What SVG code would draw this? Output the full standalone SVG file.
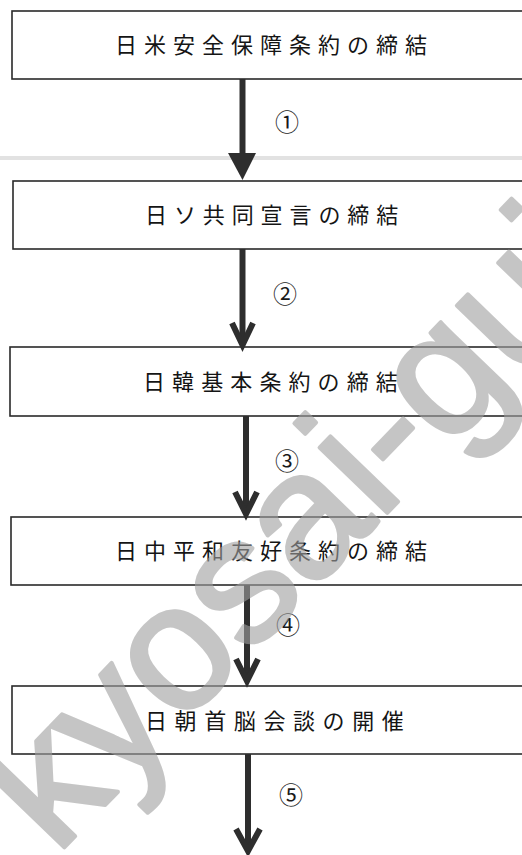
<svg xmlns="http://www.w3.org/2000/svg" width="522" height="855" viewBox="0 0 522 855">
<style>
.box{fill:#fff;stroke:#2a2a2a;stroke-width:1.6}
.lbl{font-family:"Noto Sans CJK JP","Noto Sans",sans-serif;font-size:22px;fill:#151515}
.num{font-family:"Noto Sans CJK JP","Noto Sans",sans-serif;font-size:24px;fill:#1a1a1a;text-anchor:middle}
.shaft{stroke:#2e2e2e;stroke-width:6;fill:none}
.head{stroke:#2e2e2e;stroke-width:6;fill:none;stroke-linejoin:miter;stroke-linecap:butt}
.wm{font-family:"Liberation Sans",Arial,sans-serif;font-size:178px;fill:#a0a0a0;stroke:#a0a0a0;stroke-width:4;stroke-linejoin:round;opacity:0.6}
</style>
<rect x="0" y="0" width="522" height="855" fill="#fff"/>
<rect x="0" y="156" width="522" height="4" fill="#e2e2e2"/>
<g id="node1"><rect class="box" x="12" y="11" width="520" height="68"/><text class="lbl" x="115" y="53" letter-spacing="7">日米安全保障条約の締結</text></g>
<g id="node2"><rect class="box" x="13" y="181" width="520" height="68"/><text class="lbl" x="145" y="223" letter-spacing="6.9">日ソ共同宣言の締結</text></g>
<g id="node3"><rect class="box" x="10" y="347" width="520" height="69"/><text class="lbl" x="143" y="390" letter-spacing="7.1">日韓基本条約の締結</text></g>
<g id="node4"><rect class="box" x="11" y="517" width="520" height="68"/><text class="lbl" x="115" y="559" letter-spacing="7">日中平和友好条約の締結</text></g>
<g id="node5"><rect class="box" x="12" y="686" width="520" height="68"/><text class="lbl" x="145" y="729" font-size="25" letter-spacing="7.6">日朝首脳会談の開催</text></g>
<g id="connectors">
<line class="shaft" x1="242.5" y1="79" x2="242.5" y2="160"/>
<polygon points="228,153 256,153 242.5,180" fill="#2e2e2e"/>
<text class="num" x="287" y="131">①</text>
<line class="shaft" x1="242.5" y1="249" x2="242.5" y2="343"/>
<polyline class="head" points="232,323 242.5,345 253,323"/>
<text class="num" x="285" y="303">②</text>
<line class="shaft" x1="246" y1="416" x2="246" y2="512"/>
<polyline class="head" points="235,492 246,514 257,492"/>
<text class="num" x="287" y="470">③</text>
<line class="shaft" x1="247" y1="585" x2="247" y2="680"/>
<polyline class="head" points="236,659 247,681 258,659"/>
<text class="num" x="288" y="634">④</text>
<line class="shaft" x1="248" y1="754" x2="248" y2="850"/>
<polyline class="head" points="236,829 248,851 260,829"/>
<text class="num" x="291" y="804">⑤</text>
</g>
<g id="watermark"><text class="wm" transform="translate(56,856) rotate(-46)">kyosai-guide</text></g>
</svg>
